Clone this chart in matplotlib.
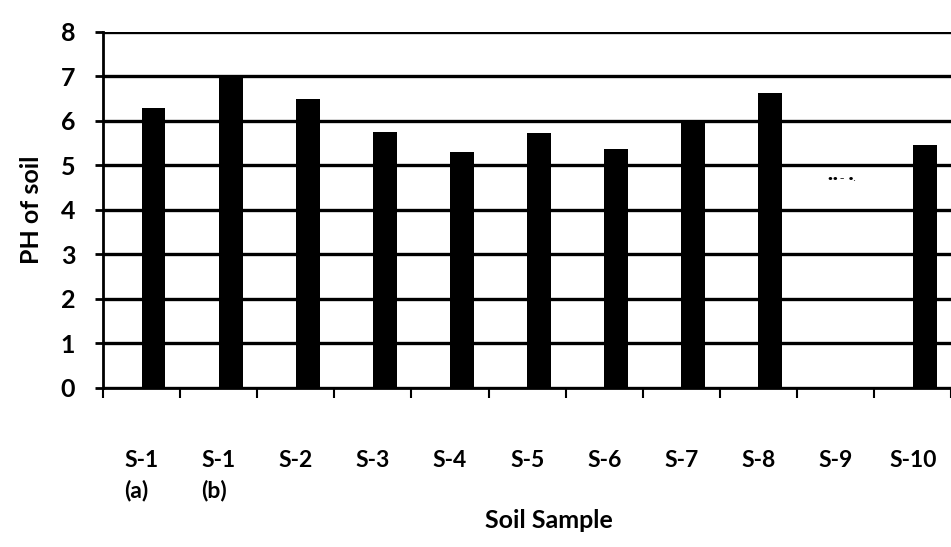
import numpy as np
import matplotlib.pyplot as plt

plt.rcParams['font.family'] = ['Lato', 'DejaVu Sans']
plt.rcParams['font.weight'] = 'bold'

samples = ['S-1\n(a)', 'S-1\n(b)', 'S-2', 'S-3', 'S-4', 'S-5', 'S-6', 'S-7', 'S-8', 'S-9', 'S-10']
ph = [6.3, 7.0, 6.5, 5.75, 5.3, 5.72, 5.38, 5.95, 6.62, np.nan, 5.45]
missing_mark = '•• –  •.'

fig = plt.figure(figsize=(9.51, 5.47), dpi=100)
ax = fig.add_axes([0.1083, 0.2907, 0.892, 0.6508])

x = np.arange(len(samples))
ax.set_axisbelow(True)
ax.yaxis.grid(True, color='black', linewidth=2.4)
ax.bar(x, ph, width=0.31, align='edge', color='black', zorder=3)

# S-9 has no value, only the faint dash marks
ax.text(9.08, 4.7, missing_mark, fontsize=6, ha='center', va='center', color='black')

ax.set_ylim(0, 8)
ax.set_xlim(-0.5, 10.5)
ax.set_yticks(range(0, 9))
ax.tick_params(axis='y', labelsize=18, length=6, width=2, direction='out', pad=14)

ax.set_xticks(x)
ax.set_xticklabels(samples, fontsize=16.5, multialignment='left', va='top', linespacing=1.45)
ax.tick_params(axis='x', which='major', length=0, pad=45)
ax.set_xticks(np.arange(-0.5, 10.6, 1), minor=True)
ax.tick_params(axis='x', which='minor', length=7, width=1.5, direction='out')

for s in ['top', 'right']:
    ax.spines[s].set_visible(False)
ax.spines['left'].set_linewidth(2)
ax.spines['bottom'].set_linewidth(2)

ax.set_xlabel('Soil Sample', fontsize=18, fontweight='bold')
ax.xaxis.set_label_coords(0.526, -0.34)
ax.set_ylabel('PH of soil', fontsize=18, fontweight='bold', labelpad=13)

fig.savefig('out.png', dpi=100)
